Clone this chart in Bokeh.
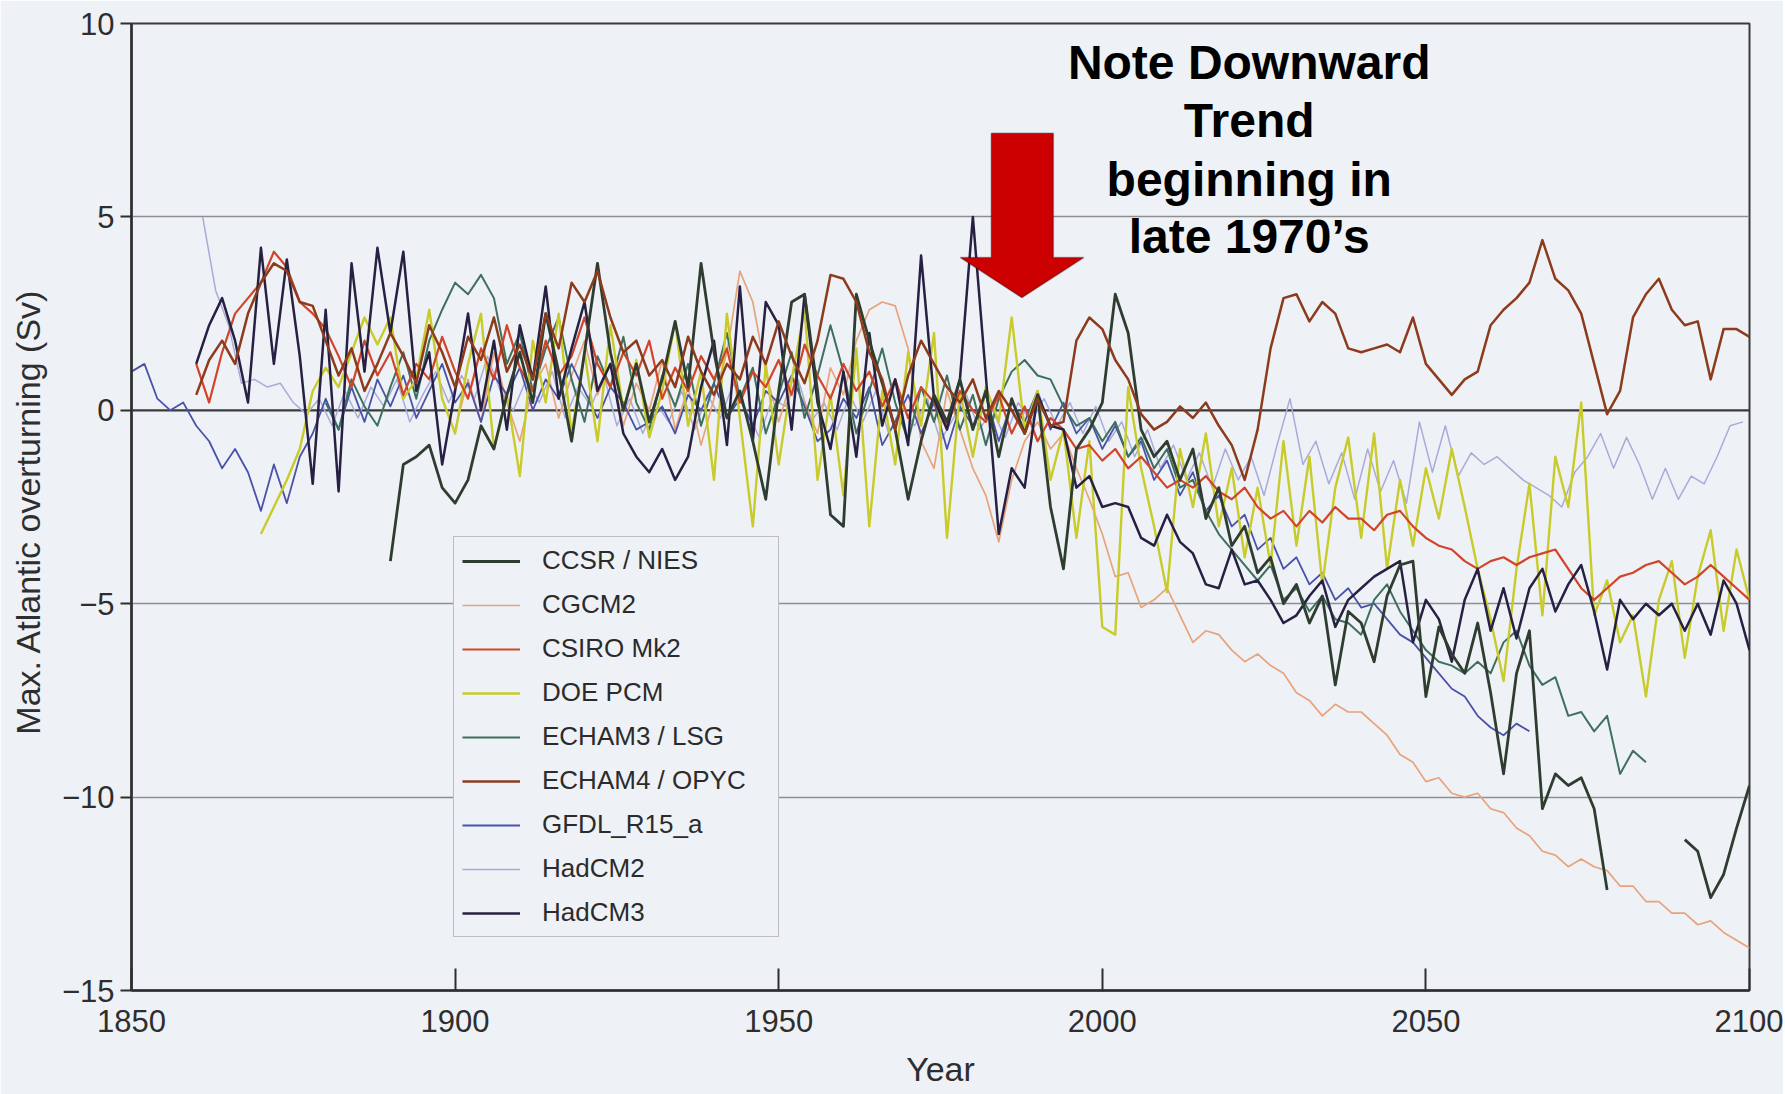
from bokeh.plotting import figure
from bokeh.models import (Range1d, FixedTicker, Legend, LegendItem, Span, Label,
                          PolyAnnotation)
from bokeh.embed import file_html
from bokeh.resources import INLINE

NaN = float("nan")

# ---------------- data (2-year steps) ----------------
X_TICKS = [1850, 1900, 1950, 2000, 2050, 2100]
Y_TICKS = [-15, -10, -5, 0, 5, 10]
Y_TICK_LABELS = {-15: "\u221215", -10: "\u221210", -5: "\u22125", 0: "0", 5: "5", 10: "10"}
YEAR_STEP = 2

ccsr_nies_start = 1890
ccsr_nies = [
    -3.9, -1.4, -1.2, -0.9, -2.0, -2.4, -1.8, -0.4, -1.0, 0.4,
    1.5, 0.2, 2.5, 1.0, -0.8, 1.5, 3.8, 1.5, 0.0, 1.2,
    -0.3, 0.8, 2.3, 0.6, 3.8, 1.5, -0.2, 0.5, -0.8, -2.3,
    0.5, 2.8, 3.0, 0.5, -2.7, -3.0, 3.0, 1.8, 0.7, -0.5,
    -2.3, -0.8, 0.4, -0.3, 0.8, -0.5, 0.5, -1.2, 0.3, -0.6,
    0.4, -2.5, -4.1, -1.0, -0.5, 0.2, 3.0, 2.0, -0.5, -1.2,
    -0.8, -1.8, -1.0, -2.8, -2.0, -3.5, -3.0, -4.2, -3.8, -5.0,
    -4.5, -5.5, -4.8, -7.1, -5.2, -5.5, -6.5, -4.8, -4.0, -3.9,
    -7.4, -5.6, -6.3, -6.8, -5.5, -7.3, -9.4, -6.8, -5.7, -10.3,
    -9.4, -9.7, -9.5, -10.3, -12.4, NaN, NaN, NaN, NaN, NaN,
    -11.1, -11.4, -12.6, -12.0, -10.8, -9.7,
]

cgcm2_start = 1900
cgcm2 = [
    -0.5, 0.8, -0.3, 1.5, 0.2, -0.8, 0.6, 1.2, -0.2, 0.9,
    1.8, 0.4, 1.2, -0.4, 0.7, 0.0, 1.3, -0.5, 0.6, -0.9,
    0.3, 1.5, 3.6, 2.8, 1.0, -0.3, 0.8, 0.2, -0.6, 1.1,
    0.4, 1.8, 2.6, 2.8, 2.7, 1.6, -0.8, -1.5, 0.5, -0.5,
    -1.5, -2.2, -3.4, -1.8, -0.8, -0.3, -1.0, -0.6, -1.5, -2.3,
    -3.2, -4.3, -4.2, -5.1, -4.9, -4.6, -5.3, -6.0, -5.7, -5.8,
    -6.2, -6.5, -6.3, -6.6, -6.8, -7.3, -7.5, -7.9, -7.6, -7.8,
    -7.8, -8.1, -8.4, -8.9, -9.1, -9.6, -9.5, -9.9, -10.0, -9.9,
    -10.3, -10.4, -10.8, -11.0, -11.4, -11.5, -11.8, -11.6, -11.8, -11.9,
    -12.3, -12.3, -12.7, -12.7, -13.0, -13.0, -13.3, -13.2, -13.5, -13.7,
    -13.9,
]

csiro_mk2_start = 1860
csiro_mk2 = [
    1.2, 0.2, 1.5, 2.5, 2.9, 3.3, 4.1, 3.7, 2.8, 2.5,
    2.1, 1.4, 0.6, 1.8, 0.9, 1.5, 0.4, 1.2, 0.8, 1.9,
    1.0, 0.3, 1.6, 0.8, 2.2, 1.1, 0.5, 1.8, 0.9, 1.4,
    2.4, 1.2, 0.6, 1.5, 0.9, 1.8, 0.3, 1.1, 0.5, 1.4,
    0.8, 1.6, 0.2, 1.0, 0.6, 1.3, 0.4, 1.7, 0.9, 0.3,
    1.2, 0.5, 1.0, 0.1, 0.8, -0.2, 0.6, 0.2, -0.4, 0.5,
    0.0, -0.3, 0.4, -0.6, 0.1, -0.8, -0.2, -0.5, -1.0, -0.9,
    -1.3, -1.0, -1.5, -1.2, -1.6, -2.0, -1.8, -2.0, -1.7, -2.1,
    -2.3, -2.0, -2.5, -2.8, -2.6, -3.0, -2.6, -2.9, -2.5, -2.8,
    -2.8, -3.1, -2.7, -2.6, -3.0, -3.3, -3.5, -3.6, -3.9, -4.1,
    -3.9, -3.8, -4.0, -3.8, -3.7, -3.6, -4.1, -4.6, -4.9, -4.6,
    -4.3, -4.2, -4.0, -3.9, -4.2, -4.5, -4.3, -4.0, -4.3, -4.6,
    -4.9,
]

doe_pcm_start = 1870
doe_pcm = [
    -3.2, -2.5, -1.8, -1.0, 0.5, 1.1, 0.6, 1.5, 2.4, 1.7,
    2.4, 0.3, 0.8, 2.6, 0.3, -0.6, 1.2, 2.5, -1.0, 0.4,
    -1.7, 1.8, 0.2, 2.5, -0.6, 1.5, -0.8, 2.2, 0.0, 1.3,
    -0.7, 0.5, 2.3, -0.4, 1.0, -1.8, 2.5, -0.2, -3.0, 1.2,
    -1.4, 0.8, 2.6, -1.8, 0.4, -2.2, 1.6, -3.0, 0.5, -1.4,
    1.5, -0.4, 2.0, -3.3, 0.5, -1.2, 0.6, -0.3, 2.4, -0.5,
    0.5, -1.8, -0.5, -3.3, -0.8, -5.6, -5.8, 0.6, -1.5, -3.0,
    -4.7, -1.0, -2.5, -0.6, -3.0, -1.5, -3.8, -2.0, -4.0, -0.8,
    -3.5, -1.2, -4.5, -2.0, -0.7, -3.3, -0.6, -4.1, -1.8, -3.5,
    -1.5, -2.8, -1.0, -2.5, -4.1, -5.4, -7.0, -4.1, -1.9, -5.3,
    -1.2, -2.5, 0.2, -5.3, -4.4, -6.0, -5.3, -7.4, -4.9, -3.9,
    -6.4, -4.3, -3.1, -5.7, -3.6, -4.9,
]

echam3_lsg_start = 1880
echam3_lsg = [
    0.2, -0.5, 0.8, 0.1, -0.4, 0.6, 1.5, 0.3, 1.8, 2.6,
    3.3, 3.0, 3.5, 2.9, 1.2, 2.0, 0.5, 1.6, 2.4, 0.8,
    -0.3, 1.4, 0.6, 1.9, 0.2, -0.5, 0.9, 0.1, 1.2, -0.4,
    0.7, 2.0, 0.3, 1.1, -0.6, 0.4, 1.5, -0.2, 0.9, 2.2,
    1.0, -0.6, 0.5, 1.6, 0.2, -0.8, 0.6, -0.3, 0.9, -0.5,
    0.4, -0.9, 0.3, 1.0, 1.3, 0.9, 0.8, 0.1, -0.4, -0.2,
    -0.8, -0.3, -1.2, -0.7, -1.5, -1.0, -2.0, -1.8, -2.6, -3.2,
    -3.6, -4.0, -4.4, -4.0, -4.9, -4.6, -5.2, -4.8, -5.4, -5.5,
    -5.8, -4.9, -4.5, -5.2, -5.7, -6.2, -6.5, -6.6, -6.8, -6.5,
    -6.8, -6.0, -5.7, -6.6, -7.1, -6.9, -7.9, -7.8, -8.3, -7.9,
    -9.4, -8.8, -9.1,
]

echam4_opyc_start = 1860
echam4_opyc = [
    0.4, 1.3, 1.8, 1.2, 2.5, 3.3, 3.8, 3.6, 2.8, 2.7,
    1.8, 0.9, 1.6, 0.5, 1.2, 2.0, 1.4, 0.7, 2.2, 1.5,
    0.6, 1.9, 1.3, 2.4, 1.0, 1.7, 0.8, 2.5, 1.6, 3.3,
    2.8, 3.6, 2.4, 1.5, 1.8, 0.9, 1.3, 0.6, 1.9, 1.0,
    0.4, 1.2, 0.8, 1.9, 1.2, 2.3, 1.4, 0.7, 1.8, 3.5,
    3.4, 2.8, 1.5, 0.8, -0.5, 0.9, 1.8, 1.2, 0.6, 0.2,
    0.8, -0.2, 0.5, 0.0, -0.6, 0.3, -0.4, -0.3, 1.8, 2.4,
    2.1, 1.3, 0.8, -0.1, -0.5, -0.3, 0.1, -0.2, 0.2, -0.4,
    -0.9, -1.8, -0.5, 1.6, 2.9, 3.0, 2.3, 2.8, 2.5, 1.6,
    1.5, 1.6, 1.7, 1.5, 2.4, 1.2, 0.8, 0.4, 0.8, 1.0,
    2.2, 2.6, 2.9, 3.3, 4.4, 3.4, 3.1, 2.5, 1.2, -0.1,
    0.5, 2.4, 3.0, 3.4, 2.6, 2.2, 2.3, 0.8, 2.1, 2.1,
    1.9,
]

gfdl_r15_a_start = 1850
gfdl_r15_a = [
    1.0, 1.2, 0.3, 0.0, 0.2, -0.4, -0.8, -1.5, -1.0, -1.6,
    -2.6, -1.4, -2.4, -1.2, -0.6, 0.3, -0.5, 0.6, -0.3, 0.8,
    0.1, 0.9, -0.2, 0.5, 1.2, 0.2, 0.7, -0.3, 0.9, 0.4,
    1.1, 0.0, 0.8, 0.3, 1.2, 0.5, -0.2, 0.6, 0.2, -0.5,
    -0.3, 0.1, -0.6, 0.4, 0.0, 0.7, -0.2, 0.3, -0.4, 0.5,
    0.2, 0.9, 0.1, -0.8, -0.5, 0.3, -0.2, 0.6, -0.9, -0.3,
    0.4, -0.6, 0.2, -1.0, 0.1, -0.4, 0.4, -0.8, 0.2, -0.3,
    0.5, -0.5, 0.2, -0.6, -0.2, -1.0, -0.4, -1.2, -0.8, -1.8,
    -1.3, -2.2, -1.6, -2.6, -2.2, -3.0, -2.7, -3.6, -3.3, -4.1,
    -3.8, -4.5, -4.2, -4.9, -4.6, -5.1, -5.0, -5.4, -5.8, -6.0,
    -6.4, -6.8, -7.2, -7.4, -7.9, -8.2, -8.4, -8.1, -8.3,
]

hadcm2_start = 1861
hadcm2 = [
    5.0, 3.1, 2.2, 0.7, 0.8, 0.6, 0.7, 0.2, -0.1, 0.3,
    -0.4, 0.5, -0.2, 0.6, 0.1, 0.8, -0.3, 0.4, 1.0, 0.2,
    0.9, 0.3, 1.4, 0.5, 0.0, 0.8, 0.2, 1.0, -0.2, 0.6,
    0.1, 0.9, -0.4, 0.3, -0.6, 0.2, -0.3, 0.5, -0.5, 0.4,
    -0.2, 0.7, 0.0, -0.7, 0.3, 0.1, 0.8, -0.3, 0.2, -0.5,
    0.4, -0.3, 0.5, -0.6, 0.1, -0.4, 0.3, -0.8, -0.2, 0.4,
    -0.5, 0.0, -0.7, 0.2, -0.3, 0.3, -0.4, 0.2, -0.6, 0.1,
    -0.8, -0.3, -1.2, -0.5, -1.5, -0.9, -1.8, -1.1, -2.0, -1.0,
    -1.8, -1.2, -2.2, -0.9, 0.3, -1.4, -0.8, -1.9, -1.1, -2.3,
    -1.0, -2.1, -1.3, -2.4, -0.3, -1.6, -0.4, -1.7, -1.1, -1.4,
    -1.2, -1.5, -1.8, -2.0, -2.2, -2.5, -1.6, -1.2, -0.6, -1.5,
    -0.7, -1.4, -2.3, -1.5, -2.3, -1.7, -1.9, -1.2, -0.4, -0.3,
]

hadcm3_start = 1860
hadcm3 = [
    1.2, 2.2, 2.9, 1.8, 0.2, 4.2, 1.2, 3.9, 1.4, -1.9,
    2.6, -2.1, 3.8, 1.0, 4.2, 2.0, 4.1, 0.5, 1.5, -1.4,
    0.5, 2.5, 0.0, 1.8, -0.5, 2.2, 0.8, 3.2, 0.3, 1.6,
    2.8, 0.5, 1.2, -0.6, -1.2, -1.6, -1.0, -1.8, -1.2, 0.6,
    1.8, -0.9, 3.2, -0.8, 2.8, 2.2, -0.5, 3.0, 0.2, -1.0,
    1.0, -1.2, 2.0, -0.4, 0.8, -0.9, 4.0, 0.3, -0.5, 0.8,
    5.0, 0.9, -3.2, -1.5, -2.0, 0.4, -0.4, -0.5, -2.0, -1.7,
    -2.5, -2.4, -2.5, -3.3, -3.5, -2.7, -3.4, -3.7, -4.5, -4.6,
    -3.6, -4.5, -4.4, -4.9, -5.5, -5.3, -4.8, -4.4, -5.6, -4.9,
    -4.6, -4.3, -4.1, -3.9, -6.0, -4.9, -5.4, -6.5, -4.9, -4.1,
    -5.7, -4.6, -5.9, -4.6, -4.1, -5.2, -4.5, -4.0, -5.2, -6.7,
    -4.9, -5.4, -5.0, -5.3, -5.0, -5.7, -5.0, -5.8, -4.4, -5.0,
    -6.2,
]

# legend order
SERIES = [
    ("CCSR / NIES", ccsr_nies_start, ccsr_nies, "#2f3d30", 2.8),
    ("CGCM2", cgcm2_start, cgcm2, "#e8a37b", 1.7),
    ("CSIRO Mk2", csiro_mk2_start, csiro_mk2, "#d0452a", 2.2),
    ("DOE PCM", doe_pcm_start, doe_pcm, "#c8cb2a", 2.4),
    ("ECHAM3 / LSG", echam3_lsg_start, echam3_lsg, "#3f6f5d", 2.0),
    ("ECHAM4 / OPYC", echam4_opyc_start, echam4_opyc, "#8c3b1c", 2.5),
    ("GFDL_R15_a", gfdl_r15_a_start, gfdl_r15_a, "#4a52a8", 1.8),
    ("HadCM2", hadcm2_start, hadcm2, "#a9aad8", 1.5),
    ("HadCM3", hadcm3_start, hadcm3, "#272042", 2.5),
]
DRAW_ORDER = ["HadCM2", "CGCM2", "GFDL_R15_a", "ECHAM3 / LSG", "DOE PCM",
              "CSIRO Mk2", "HadCM3", "CCSR / NIES", "ECHAM4 / OPYC"]

NOTE_LINES = ["Note Downward", "Trend", "beginning in", "late 1970\u2019s"]

# ---------------- styling / layout constants ----------------
BG = "#eef2f7"
FONT = "Liberation Sans"
NOTE_X = 2022.7
NOTE_Y = [8.98, 7.50, 5.97, 4.50]
ARROW_XS = [1982.85, 1992.44, 1992.44, 1997.15, 1987.57, 1978.05, 1982.85]
ARROW_YS = [7.16, 7.16, 3.95, 3.95, 2.91, 3.95, 3.95]

p = figure(width=1783, height=1094, output_backend="svg", toolbar_location=None,
           x_range=Range1d(1850, 2100), y_range=Range1d(-15, 10),
           min_border_left=131, min_border_right=34, min_border_top=23,
           min_border_bottom=104)
p.background_fill_color = BG
p.border_fill_color = BG
p.outline_line_color = "#3a3a3a"
p.outline_line_width = 2

# axes
p.xaxis.ticker = FixedTicker(ticks=X_TICKS)
p.yaxis.ticker = FixedTicker(ticks=Y_TICKS)
p.yaxis.major_label_overrides = Y_TICK_LABELS
p.xaxis.axis_label = "Year"
p.yaxis.axis_label = "Max. Atlantic overturning  (Sv)"
for ax in (p.xaxis[0], p.yaxis[0]):
    ax.axis_line_color = "#2e2e2e"
    ax.axis_line_width = 2.5
    ax.major_tick_line_color = "#2e2e2e"
    ax.major_tick_line_width = 2
    ax.minor_tick_line_color = None
    ax.major_label_text_font = FONT
    ax.major_label_text_font_size = "31px"
    ax.major_label_text_color = "#2e2e2e"
    ax.axis_label_text_font = FONT
    ax.axis_label_text_font_size = "34px"
    ax.axis_label_text_font_style = "normal"
    ax.axis_label_text_color = "#2e2e2e"
p.xaxis.major_tick_in = 22
p.xaxis.major_tick_out = 0
p.xaxis.major_label_standoff = 19
p.xaxis.axis_label_standoff = 15
p.yaxis.major_tick_in = 0
p.yaxis.major_tick_out = 11
p.yaxis.major_label_standoff = 6
p.yaxis.axis_label_standoff = 12

# grid
p.xgrid.grid_line_color = None
p.ygrid.ticker = FixedTicker(ticks=[5, -5, -10])
p.ygrid.grid_line_color = "#8f8f8f"
p.ygrid.grid_line_width = 1.5
p.add_layout(Span(location=0, dimension="width", line_color="#3a3a3a",
                  line_width=2.2, level="underlay"))

# series
renderers = {}
for name in DRAW_ORDER:
    for (n, start, vals, color, lw) in SERIES:
        if n == name:
            xs = [start + YEAR_STEP * i for i in range(len(vals))]
            renderers[n] = p.line(xs, vals, line_color=color, line_width=lw,
                                  line_join="round")

legend = Legend(items=[LegendItem(label=n, renderers=[renderers[n]]) for (n, *_r) in SERIES],
                location=(322, 53))
legend.label_text_font = FONT
legend.label_text_font_size = "26px"
legend.label_text_color = "#2b2b2b"
legend.glyph_width = 58
legend.glyph_height = 30
legend.label_height = 30
legend.label_width = 228
legend.label_standoff = 22
legend.spacing = 13
legend.padding = 8
legend.margin = 0
legend.border_line_color = "#8a8a8a"
legend.border_line_width = 1.5
legend.background_fill_color = BG
legend.background_fill_alpha = 1.0
p.add_layout(legend)

# annotation arrow and note
p.add_layout(PolyAnnotation(xs=ARROW_XS, ys=ARROW_YS, xs_units="data", ys_units="data",
                            fill_color="#cc0000", fill_alpha=1.0,
                            line_color="#000000", line_width=1.5))
for txt, yy in zip(NOTE_LINES, NOTE_Y):
    p.add_layout(Label(x=NOTE_X, y=yy, text=txt, text_align="center",
                       text_baseline="middle", text_font=FONT,
                       text_font_style="bold", text_font_size="48px",
                       text_color="#000000"))

open("out.html", "w").write(file_html(p, INLINE))
